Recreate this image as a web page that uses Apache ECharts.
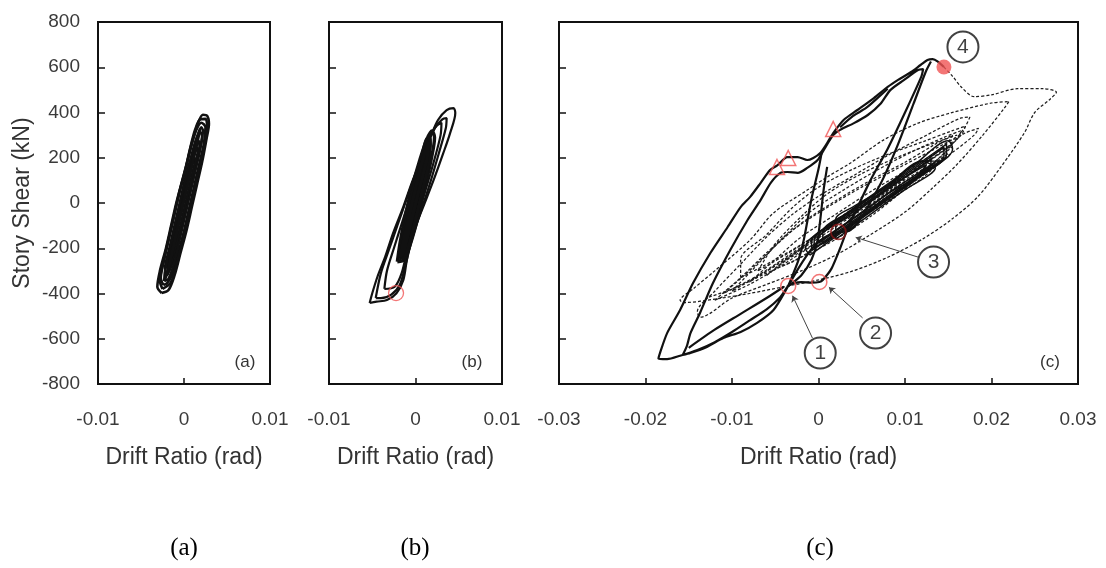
<!DOCTYPE html>
<html><head><meta charset="utf-8">
<script src="https://cdn.jsdelivr.net/npm/echarts@6/dist/echarts.min.js"></script>
<style>html,body{margin:0;padding:0;background:#fff}#c{width:1106px;height:568px}</style>
</head><body><div id="c"></div>
<script>
// ---------- axis ticks ----------
const yTicks = [-800,-600,-400,-200,0,200,400,600,800];
const xTicksAB = [-0.01,0,0.01];
const xTicksC = [-0.03,-0.02,-0.01,0,0.01,0.02,0.03];
const panelTags = ['(a)','(b)','(c)'];

// ---------- panel (a) loops [drift, shear] ----------
const loopA1 = [[-0.0026,-398],[-0.0031,-370],[-0.0028,-300],[-0.0021,-200],[-0.0015,-100],[-0.0009,0],[-0.0002,100],[0.0005,200],[0.0012,300],[0.0017,360],[0.0022,390],[0.0027,385],[0.0029,350],[0.0026,280],[0.0021,180],[0.0015,80],[0.0009,-20],[0.0003,-120],[-0.0004,-220],[-0.0011,-320],[-0.0018,-385],[-0.0026,-398]];
const loopA2 = [[-0.0024,-362],[-0.0027,-330],[-0.0023,-250],[-0.0017,-150],[-0.0011,-50],[-0.0005,50],[0.0002,150],[0.0008,250],[0.0014,320],[0.0020,355],[0.0025,335],[0.0023,260],[0.0017,160],[0.0011,60],[0.0005,-40],[-0.0001,-140],[-0.0008,-240],[-0.0014,-320],[-0.0020,-355],[-0.0024,-362]];
const loopA3 = [[-0.0021,-320],[-0.0022,-290],[-0.0017,-200],[-0.0011,-100],[-0.0005,0],[0.0001,100],[0.0008,200],[0.0014,280],[0.0019,312],[0.0021,295],[0.0017,220],[0.0011,120],[0.0005,20],[-0.0001,-80],[-0.0008,-180],[-0.0014,-270],[-0.0019,-315],[-0.0021,-320]];
const loopA4 = [[-0.0019,-285],[-0.0018,-240],[-0.0012,-140],[-0.0006,-40],[0.0000,60],[0.0007,160],[0.0013,240],[0.0017,275],[0.0018,250],[0.0013,170],[0.0007,70],[0.0001,-30],[-0.0005,-130],[-0.0012,-230],[-0.0017,-280],[-0.0019,-285]];
const loopA5 = [[-0.0014,-210],[-0.0011,-150],[-0.0005,-50],[0.0001,50],[0.0007,140],[0.0012,200],[0.0013,185],[0.0009,110],[0.0003,10],[-0.0003,-90],[-0.0009,-170],[-0.0014,-210]];
const loopA6 = [[-0.0023,-345],[-0.0022,-300],[-0.0016,-200],[-0.0010,-100],[-0.0004,0],[0.0002,100],[0.0009,200],[0.0015,290],[0.0020,335],[0.0022,320],[0.0019,240],[0.0013,140],[0.0007,40],[0.0001,-60],[-0.0005,-160],[-0.0011,-260],[-0.0018,-335],[-0.0023,-345]];
const loopA7 = [[-0.0017,-250],[-0.0014,-200],[-0.0008,-100],[-0.0002,0],[0.0004,100],[0.0010,190],[0.0015,245],[0.0016,230],[0.0011,150],[0.0005,50],[-0.0001,-50],[-0.0007,-150],[-0.0013,-230],[-0.0017,-250]];
const loopA8 = [[-0.0025,-380],[-0.0028,-345],[-0.0024,-260],[-0.0018,-160],[-0.0012,-60],[-0.0006,40],[0.0001,140],[0.0007,240],[0.0013,325],[0.0019,370],[0.0025,372],[0.0027,330],[0.0023,240],[0.0017,140],[0.0011,40],[0.0005,-60],[-0.0001,-160],[-0.0008,-260],[-0.0015,-350],[-0.0025,-380]];
const loopA9 = [[-0.0022,-340],[-0.0016,-250],[-0.0010,-150],[-0.0004,-50],[0.0002,50],[0.0008,150],[0.0014,250],[0.0019,330],[0.0014,240],[0.0008,140],[0.0002,40],[-0.0004,-60],[-0.0010,-160],[-0.0016,-260],[-0.0022,-340]];

// ---------- panel (b) loops ----------
const loopB1 = [[-0.0053,-442],[-0.0050,-399],[-0.0044,-326],[-0.0035,-237],[-0.0026,-134],[-0.0014,-16],[-0.0003,102],[0.0009,205],[0.0019,308],[0.0026,367],[0.0036,411],[0.0044,419],[0.0046,398],[0.0040,309],[0.0032,219],[0.0021,102],[0.0009,-16],[-0.0003,-134],[-0.0010,-252],[-0.0014,-340],[-0.0022,-399],[-0.0033,-429],[-0.0045,-436],[-0.0053,-442]];
const loopB2 = [[-0.0046,-420],[-0.0040,-310],[-0.0031,-210],[-0.0021,-100],[-0.0010,20],[0.0001,140],[0.0012,250],[0.0022,330],[0.0031,370],[0.0036,375],[0.0035,330],[0.0027,220],[0.0017,90],[0.0006,-40],[-0.0004,-160],[-0.0012,-280],[-0.0018,-360],[-0.0028,-405],[-0.0040,-420],[-0.0046,-420]];
const loopB3 = [[-0.0036,-380],[-0.0033,-300],[-0.0025,-200],[-0.0015,-80],[-0.0005,40],[0.0006,170],[0.0016,280],[0.0024,340],[0.0030,355],[0.0029,300],[0.0021,180],[0.0011,50],[0.0000,-80],[-0.0009,-200],[-0.0016,-310],[-0.0024,-370],[-0.0036,-380]];
const loopB4 = [[-0.0021,-260],[-0.0018,-180],[-0.0012,-60],[-0.0004,70],[0.0005,190],[0.0013,280],[0.0019,318],[0.0022,290],[0.0018,190],[0.0011,70],[0.0003,-60],[-0.0005,-170],[-0.0013,-250],[-0.0021,-260]];
const loopB5 = [[-0.0016,-230],[-0.0012,-150],[-0.0005,-30],[0.0003,100],[0.0010,210],[0.0016,280],[0.0017,260],[0.0012,160],[0.0005,40],[-0.0003,-90],[-0.0010,-190],[-0.0016,-230]];
const loopB6 = [[-0.0013,-190],[-0.0008,-100],[-0.0001,20],[0.0006,140],[0.0012,230],[0.0014,240],[0.0010,160],[0.0003,40],[-0.0005,-80],[-0.0011,-170],[-0.0013,-190]];
const loopB7 = [[-0.0010,-150],[-0.0005,-60],[0.0002,60],[0.0009,170],[0.0012,200],[0.0008,120],[0.0001,0],[-0.0006,-100],[-0.0010,-150]];
const loopB8 = [[-0.0019,-245],[-0.0015,-165],[-0.0009,-45],[-0.0001,85],[0.0007,200],[0.0014,285],[0.0017,285],[0.0015,175],[0.0008,55],[0.0000,-75],[-0.0007,-180],[-0.0014,-240],[-0.0019,-245]];
const loopB9 = [[-0.0015,-215],[-0.0010,-125],[-0.0003,-5],[0.0004,120],[0.0011,220],[0.0015,255],[0.0011,180],[0.0004,60],[-0.0004,-65],[-0.0010,-160],[-0.0015,-215]];
const loopB10 = [[-0.0018,-240],[-0.0014,-170],[-0.0007,-50],[0.0001,80],[0.0009,200],[0.0015,270],[0.0014,210],[0.0007,100],[-0.0001,-20],[-0.0008,-130],[-0.0014,-220],[-0.0018,-240]];

// ---------- panel (c) solid paths ----------
const pathC1 = [[0.0023,-128],[0.0008,-150],[-0.0005,-190],[-0.0015,-240],[-0.0025,-300],[-0.0035,-367],[-0.0052,-473],[-0.0071,-530],[-0.0090,-570],[-0.0110,-597],[-0.0129,-636],[-0.0148,-663],[-0.0157,-672],[-0.0152,-630],[-0.0148,-575],[-0.0137,-486],[-0.0122,-354],[-0.0102,-208],[-0.0082,-75],[-0.0067,13],[-0.0055,90],[-0.0044,133],[-0.0036,137],[-0.0024,133],[-0.0013,155],[-0.0001,190],[0.0006,234],[0.0017,300],[0.0025,323],[0.0041,353],[0.0057,389],[0.0072,440],[0.0083,499],[0.0099,544],[0.0115,588],[0.0121,592],[0.0119,560],[0.0100,400],[0.0080,240],[0.0060,100],[0.0045,-20],[0.0033,-120],[0.0025,-200],[0.0015,-290],[0.0005,-340],[0.0001,-349],[-0.0008,-352],[-0.0020,-350],[-0.0028,-355],[-0.0035,-367],[-0.0045,-420],[-0.0060,-470],[-0.0080,-520],[-0.0100,-570],[-0.0120,-615],[-0.0140,-650],[-0.0160,-675],[-0.0175,-690],[-0.0185,-688],[-0.0183,-660],[-0.0175,-575],[-0.0160,-473],[-0.0145,-354],[-0.0125,-221],[-0.0105,-106],[-0.0090,-18],[-0.0079,27],[-0.0067,88],[-0.0056,146],[-0.0048,165],[-0.0036,203],[-0.0024,203],[-0.0013,190],[-0.0006,199],[0.0002,221],[0.0010,265],[0.0017,309],[0.0029,367],[0.0045,411],[0.0064,464],[0.0080,513],[0.0092,544],[0.0107,579],[0.0118,610],[0.0126,632],[0.0132,636],[0.0138,625],[0.0145,601]];
const pathC2 = [[0.0130,625],[0.0124,580],[0.0110,440],[0.0092,260],[0.0075,110],[0.0058,-10],[0.0045,-90],[0.0034,-125],[0.0023,-128]];
const pathC3 = [[0.0004,228],[0.0000,150],[-0.0008,20],[-0.0017,-163],[-0.0023,-250],[-0.0030,-320],[-0.0035,-367]];
const pathC4 = [[0.0010,160],[0.0006,60],[-0.0001,-163],[-0.0008,-250],[-0.0020,-320],[-0.0035,-367]];
const pathC5 = [[-0.0150,-640],[-0.0120,-560],[-0.0090,-490],[-0.0060,-420],[-0.0040,-370]];
const pathC6 = [[0.0025,335],[0.0040,385],[0.0055,420],[0.0070,470],[0.0080,505]];

// ---------- panel (c) dashed loops ----------
const dashC1 = [[0.0145,601],[0.0155,560],[0.0165,513],[0.0180,470],[0.0200,478],[0.0230,505],[0.0260,505],[0.0275,490],[0.0268,460],[0.0250,400],[0.0238,310],[0.0211,160],[0.0184,27],[0.0153,-75],[0.0120,-160],[0.0080,-240],[0.0040,-300],[0.0000,-340],[-0.0040,-370],[-0.0080,-400],[-0.0120,-425],[-0.0155,-440],[-0.0160,-430],[-0.0145,-380],[-0.0120,-300],[-0.0079,-163],[-0.0052,-44],[-0.0013,57],[0.0010,115],[0.0037,177],[0.0075,278],[0.0115,353],[0.0153,398],[0.0200,442],[0.0220,448]];
const dashC2 = [[0.0220,448],[0.0215,420],[0.0190,300],[0.0160,170],[0.0130,60],[0.0100,-40],[0.0060,-140],[0.0020,-230],[-0.0020,-300],[-0.0060,-360],[-0.0100,-420],[-0.0137,-505],[-0.0140,-480],[-0.0120,-390],[-0.0090,-270],[-0.0060,-150],[-0.0030,-50],[0.0000,30],[0.0040,120],[0.0080,210],[0.0120,290],[0.0165,376],[0.0175,380],[0.0170,340],[0.0150,240],[0.0120,130],[0.0090,30],[0.0060,-60],[0.0020,-160],[-0.0020,-240],[-0.0060,-310],[-0.0100,-380],[-0.0130,-420]];
const dashC3 = [[-0.0110,-400],[-0.0080,-300],[-0.0050,-190],[-0.0020,-90],[0.0020,10],[0.0060,100],[0.0100,180],[0.0135,260],[0.0155,300],[0.0150,270],[0.0120,170],[0.0090,80],[0.0050,-20],[0.0010,-120],[-0.0030,-220],[-0.0070,-320],[-0.0110,-400]];
const dashC4 = [[-0.0080,-350],[-0.0050,-250],[-0.0020,-150],[0.0020,-50],[0.0060,50],[0.0100,140],[0.0140,230],[0.0155,250],[0.0130,170],[0.0090,70],[0.0050,-30],[0.0010,-130],[-0.0030,-230],[-0.0080,-350]];
const dashC5 = [[-0.0060,-320],[-0.0030,-230],[0.0000,-140],[0.0040,-40],[0.0080,50],[0.0120,140],[0.0150,220],[0.0120,120],[0.0080,20],[0.0040,-70],[0.0000,-170],[-0.0040,-260],[-0.0060,-320]];
const dashC6 = [[-0.0100,-390],[-0.0070,-270],[-0.0040,-150],[-0.0010,-40],[0.0030,60],[0.0070,150],[0.0110,230],[0.0145,290],[0.0165,320],[0.0160,280],[0.0130,190],[0.0095,100],[0.0060,10],[0.0020,-90],[-0.0020,-200],[-0.0060,-300],[-0.0100,-390]];
const dashC7 = [[-0.0120,-430],[-0.0090,-330],[-0.0060,-220],[-0.0030,-120],[0.0010,-20],[0.0050,70],[0.0090,150],[0.0130,230],[0.0170,310],[0.0185,330],[0.0180,300],[0.0150,210],[0.0115,120],[0.0080,30],[0.0040,-70],[0.0000,-170],[-0.0040,-270],[-0.0080,-360],[-0.0120,-430]];
const dashC8 = [[-0.0050,-290],[-0.0020,-200],[0.0010,-110],[0.0050,-10],[0.0090,80],[0.0130,170],[0.0145,200],[0.0120,110],[0.0080,10],[0.0040,-90],[0.0000,-190],[-0.0030,-260],[-0.0050,-290]];
const dashC9 = [[-0.0090,-330],[-0.0090,-250],[-0.0060,-140],[-0.0030,-20],[0.0000,70],[0.0040,150],[0.0080,215],[0.0120,270],[0.0155,320],[0.0170,340],[0.0165,300],[0.0140,220],[0.0110,140],[0.0070,50],[0.0030,-50],[-0.0010,-160],[-0.0050,-250],[-0.0090,-330]];
const dashC10 = [[-0.0070,-300],[-0.0050,-180],[-0.0020,-60],[0.0010,40],[0.0050,130],[0.0090,200],[0.0130,260],[0.0160,300],[0.0150,250],[0.0120,170],[0.0085,90],[0.0050,0],[0.0010,-110],[-0.0030,-210],[-0.0070,-300]];

// ---------- panel (c) dense centre band ----------
const coreC1 = [[-0.0010,-230],[0.0030,-121],[0.0070,-13],[0.0110,96],[0.0150,205],[0.0155,240],[0.0150,275],[0.0110,166],[0.0070,57],[0.0030,-51],[-0.0010,-160],[-0.0015,-200],[-0.0010,-230]];
const coreC2 = [[-0.0005,-200],[0.0030,-106],[0.0070,2],[0.0110,111],[0.0145,206],[0.0145,246],[0.0110,151],[0.0070,42],[0.0030,-66],[-0.0005,-160],[-0.0005,-200]];
const coreC3 = [[0.0000,-178],[0.0040,-69],[0.0080,40],[0.0130,175],[0.0130,195],[0.0080,60],[0.0040,-49],[0.0000,-158],[0.0000,-178]];
const coreC4 = [[0.0005,-182],[0.0040,-87],[0.0080,22],[0.0120,130],[0.0140,185],[0.0120,186],[0.0080,78],[0.0040,-31],[0.0005,-126],[0.0005,-182]];
const coreC5 = [[0.0020,-160],[0.0060,-50],[0.0100,59],[0.0135,155],[0.0120,183],[0.0080,74],[0.0040,-17],[0.0020,-70],[0.0020,-160]];
const coreC6 = [[0.0030,-130],[0.0070,-5],[0.0110,100],[0.0125,170],[0.0090,90],[0.0050,-20],[0.0030,-100]];
const coreC7 = [[-0.0008,-210],[0.0030,-113],[0.0070,-5],[0.0110,103],[0.0148,215],[0.0148,260],[0.0110,158],[0.0070,50],[0.0030,-58],[-0.0008,-170],[-0.0008,-210]];
const coreC8 = [[0.0010,-168],[0.0050,-60],[0.0090,48],[0.0135,180],[0.0090,68],[0.0050,-40],[0.0010,-148]];

// ---------- markers ----------
const markB = [[-0.00225,-398]];
const triC = [[-0.0048,159],[-0.0035,199],[0.0017,327]];
const ringC = [[-0.0035,-367],[0.0001,-349]];
const ringDarkC = [[0.0023,-128]];
const dotC = [[0.0145,601]];
// annotation callouts: [label, drift, shear]
const calloutC = [['1',0.0002,-663],['2',0.0066,-575],['3',0.0133,-261],['4',0.0167,690]];
// leader lines: [fromDrift, fromShear, toDrift, toShear]
const leaderC = [[-0.0007,-597,-0.0030,-410],[0.0051,-508,0.0012,-372],[0.0115,-239,0.0043,-152]];

const FONT = '"Liberation Sans", Arial, sans-serif';
const fmt = v => String(Math.round(v*100)/100);

function xAx(gi, ticks){
  return {type:'value', gridIndex:gi, min:ticks[0], max:ticks[ticks.length-1], interval:0.01,
    axisLine:{show:true, onZero:false, lineStyle:{color:'#111', width:2}},
    axisTick:{show:true, inside:true, length:6, lineStyle:{color:'#111', width:1.5}},
    splitLine:{show:false},
    axisLabel:{show:true, margin:26, fontFamily:FONT, fontSize:19, color:'#3a3a3a', formatter:fmt, showMinLabel:true, showMaxLabel:true},
    name:'Drift Ratio (rad)', nameLocation:'middle', nameGap:62,
    nameTextStyle:{fontFamily:FONT, fontSize:23, color:'#333'}};
}
function yAx(gi, showLabel){
  const o = {type:'value', gridIndex:gi, min:yTicks[0], max:yTicks[yTicks.length-1], interval:200,
    axisLine:{show:true, onZero:false, lineStyle:{color:'#111', width:2}},
    axisTick:{show:true, inside:true, length:7, lineStyle:{color:'#111', width:1.5}},
    splitLine:{show:false},
    axisLabel:{show:showLabel, margin:18, fontFamily:FONT, fontSize:19, color:'#3a3a3a'}};
  if (showLabel){ o.name='Story Shear (kN)'; o.nameLocation='middle'; o.nameGap=64;
    o.nameTextStyle={fontFamily:FONT, fontSize:23, color:'#333'}; }
  return o;
}

const series = [];
function addLine(gi, data, style, smooth){
  series.push({type:'line', xAxisIndex:gi, yAxisIndex:gi, data:data, showSymbol:false, symbol:'none',
    smooth:smooth===undefined?0.3:smooth, lineStyle:style, silent:true, z:3});
}
const solidA = {color:'#111', width:2.6};
[loopA1,loopA2,loopA3,loopA4,loopA5,loopA6,loopA7,loopA8,loopA9].forEach(l=>addLine(0,l,solidA));
[loopB1,loopB2,loopB3].forEach(l=>addLine(1,l,{color:'#111', width:2.2}));
[loopB4,loopB5,loopB6,loopB7,loopB8,loopB9,loopB10].forEach(l=>addLine(1,l,{color:'#111', width:3.4}));
const dashStyle = {color:'#1e1e1e', width:1.25, type:[3,2]};
[dashC1,dashC2,dashC3,dashC4,dashC5,dashC6,dashC7,dashC8,dashC9,dashC10].forEach(l=>addLine(2,l,dashStyle));
[coreC1,coreC2,coreC3,coreC4,coreC5,coreC6,coreC7,coreC8].forEach(l=>addLine(2,l,{color:'#111', width:1.5}));
[pathC1,pathC2,pathC3,pathC4,pathC5,pathC6].forEach(l=>addLine(2,l,{color:'#111', width:2.2},0.25));

const RED = '#f05454';
function addScatter(gi, data, symbol, size, itemStyle){
  series.push({type:'scatter', xAxisIndex:gi, yAxisIndex:gi, data:data, symbol:symbol, symbolSize:size, itemStyle:itemStyle, silent:true, z:6});
}
addScatter(1, markB, 'circle', 15, {color:'rgba(0,0,0,0)', borderColor:RED, borderWidth:1.3});
addScatter(2, triC, 'triangle', 15, {color:'rgba(0,0,0,0)', borderColor:RED, borderWidth:1.5});
addScatter(2, ringC, 'circle', 15, {color:'rgba(0,0,0,0)', borderColor:RED, borderWidth:1.5});
addScatter(2, ringDarkC, 'circle', 15, {color:'rgba(0,0,0,0)', borderColor:'#8a1414', borderWidth:1.8});
addScatter(2, dotC, 'circle', 15, {color:RED});

series.push({type:'lines', coordinateSystem:'cartesian2d', xAxisIndex:2, yAxisIndex:2, silent:true, z:5,
  symbol:['none','arrow'], symbolSize:6,
  lineStyle:{color:'#444', width:1, opacity:1},
  data: leaderC.map(d=>({coords:[[d[0],d[1]],[d[2],d[3]]]}))});
series.push({type:'scatter', xAxisIndex:2, yAxisIndex:2, silent:true, z:7, symbol:'circle', symbolSize:31,
  itemStyle:{color:'#fff', borderColor:'#111', borderWidth:2},
  label:{show:true, position:'inside', formatter:p=>p.data[0], fontFamily:FONT, fontSize:21, color:'#111'},
  encode:{x:1, y:2},
  data: calloutC});

const tagPos = [[245,362],[472,362],[1050,362]];
const capPos = [[184,548],[415,548],[820,548]];
const graphic = [];
panelTags.forEach((t,i)=>{
  graphic.push({type:'text', x:tagPos[i][0], y:tagPos[i][1], style:{text:t, font:'17px '+FONT, fill:'#333', textAlign:'center', textVerticalAlign:'middle'}});
  graphic.push({type:'text', x:capPos[i][0], y:capPos[i][1], style:{text:t, font:'25px "Liberation Serif", "Times New Roman", serif', fill:'#000', textAlign:'center', textVerticalAlign:'middle'}});
});

const chart = echarts.init(document.getElementById('c'), null, {renderer:'canvas'});
chart.setOption({
  animation:false, backgroundColor:'#fff',
  grid:[
    {left:98, top:22, width:172, height:362, show:true, borderColor:'#111', borderWidth:2},
    {left:329, top:22, width:173, height:362, show:true, borderColor:'#111', borderWidth:2},
    {left:559, top:22, width:519, height:362, show:true, borderColor:'#111', borderWidth:2}
  ],
  xAxis:[xAx(0,xTicksAB), xAx(1,xTicksAB), xAx(2,xTicksC)],
  yAxis:[yAx(0,true), yAx(1,false), yAx(2,false)],
  series: series,
  graphic: graphic
});
</script></body></html>
